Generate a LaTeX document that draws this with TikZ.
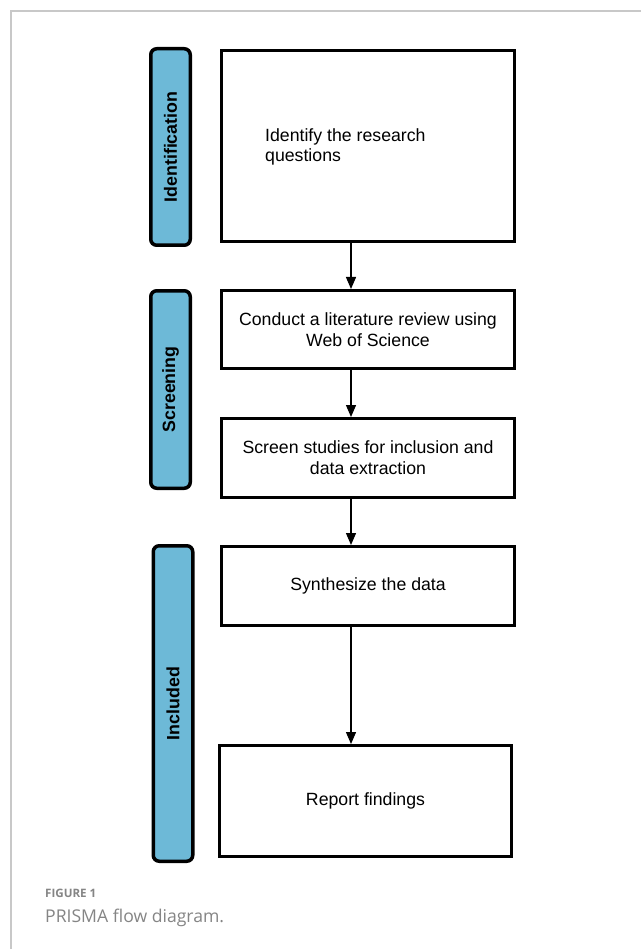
\documentclass[tikz,border=0pt]{standalone}
\usepackage{fontspec}
\setmainfont{Liberation Sans}
\newfontfamily\capfont{Open Sans}
\usetikzlibrary{arrows.meta}
\definecolor{barblue}{HTML}{6DB9D7}
\definecolor{framegray}{HTML}{C8C8C8}
\definecolor{capgray}{HTML}{858585}
\begin{document}
\begin{tikzpicture}[x=1pt,y=-1pt,
  box/.style={draw=black,line width=3pt,fill=white,minimum width=293pt,inner sep=0pt,
    font=\fontsize{17.7}{20.8}\selectfont,align=center},
  phase/.style={draw=black,line width=3.5pt,fill=barblue,rounded corners=6pt,minimum width=39.5pt,inner sep=0pt},
  phasetext/.style={rotate=90,font=\fontsize{17.8}{20}\selectfont\bfseries},
  arr/.style={line width=1.3pt,-{Triangle[width=10pt,length=12pt]}},
  frame/.style={draw=framegray,line width=1.2pt}]
\useasboundingbox (0,0) rectangle (641,949);
\fill[white] (0,0) rectangle (641,949);
\draw[frame] (641,11) -- (11,11) -- (11,949);

% phase bars
\node[phase,minimum height=196.5pt] (p1) at (170.5,147) {};
\node[phasetext] (p1t) at (p1.center) {Identification};
\node[phase,minimum height=197.5pt] (p2) at (170.5,389.5) {};
\node[phasetext] (p2t) at (p2.center) {Screening};
\node[phase,minimum height=315.5pt] (p3) at (173,703.5) {};
\node[phasetext] (p3t) at (p3.center) {Included};

% boxes
\node[box,minimum height=191pt] (b1) at (368,146) {};
\node[anchor=west,align=left,font=\fontsize{17.7}{20.8}\selectfont,inner sep=0pt] (b1t) at (265,147) {Identify the research\\questions};
\node[box,minimum height=78pt] (b2) at (368,329.5) {Conduct a literature review using\\Web of Science};
\node[box,minimum height=79pt] (b3) at (368,458) {Screen studies for inclusion and\\data extraction};
\node[box,minimum height=79pt] (b4) at (368,586) {Synthesize the data};
\node[box,minimum height=111pt,minimum width=292pt] (b5) at (365.5,801) {Report findings};

% arrows
\coordinate (ax) at (351,0);
\draw[arr] (ax |- b1.south) -- (ax |- b2.north);
\draw[arr] (ax |- b2.south) -- (ax |- b3.north);
\draw[arr] (ax |- b3.south) -- (ax |- b4.north);
\draw[arr] (ax |- b4.south) -- (ax |- b5.north);

% caption
\node[anchor=base west,inner sep=0pt,text=capgray,font=\capfont\fontsize{11.6}{14}\selectfont\bfseries] (cap1) at (45,897) {FIGURE 1};
\node[anchor=base west,inner sep=0pt,text=capgray,font=\capfont\fontsize{17.6}{20}\selectfont] (cap2) at (45,922) {PRISMA flow diagram.};
\end{tikzpicture}
\end{document}
